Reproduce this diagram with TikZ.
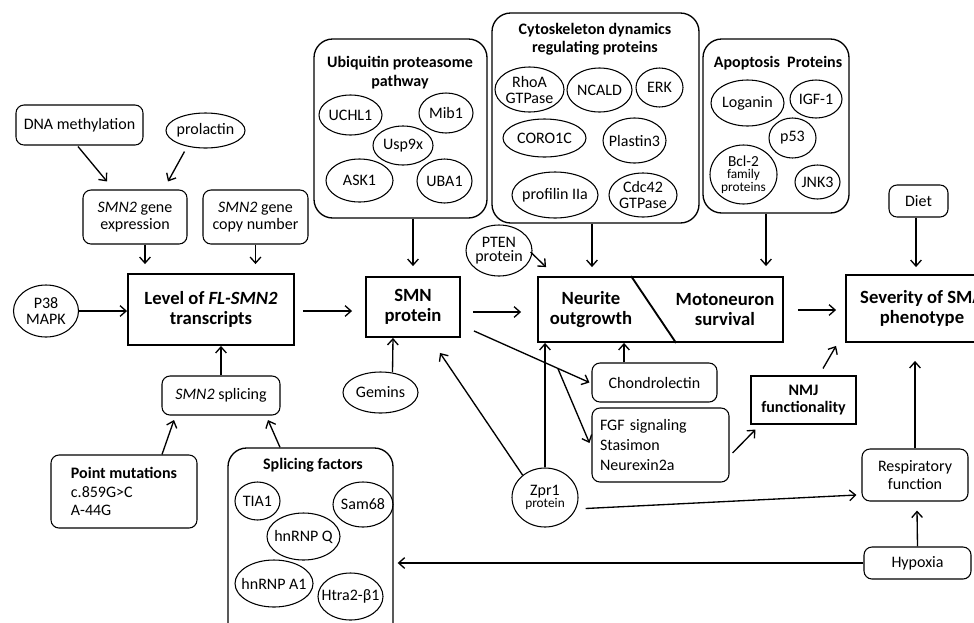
\documentclass[tikz,border=0pt]{standalone}
\usepackage{fontspec}
\setmainfont{Carlito}
\usetikzlibrary{shapes.geometric,arrows.meta,calc}
\tikzset{
  base/.style={draw, align=center, font=\fontsize{12}{13}\selectfont},
  rbox/.style 2 args={base, rounded corners=6pt, line width=0.8pt, inner sep=0pt, minimum width=#1*0.75pt, minimum height=#2*0.75pt},
  sbox/.style 2 args={base, line width=0.8pt, inner sep=0pt, minimum width=#1*0.75pt, minimum height=#2*0.75pt},
  mainbox/.style 2 args={draw, line width=1.4pt, inner sep=0pt, minimum width=#1*0.75pt, minimum height=#2*0.75pt, align=center, font=\fontsize{14}{15}\selectfont\bfseries},
  ell/.style 2 args={base, ellipse, line width=0.8pt, inner sep=-5pt, minimum width=#1*0.75pt, minimum height=#2*0.75pt},
  group/.style 2 args={draw, rounded corners=14pt, line width=1pt, inner sep=0pt, minimum width=#1*0.75pt, minimum height=#2*0.75pt},
  gtitle/.style={align=center, inner sep=0pt, font=\fontsize{12}{14}\selectfont\bfseries},
  txt/.style={align=center, inner sep=0pt, font=\fontsize{14}{15}\selectfont\bfseries},
  arr/.style={draw, line width=1pt, -{Straight Barb[length=4.5pt,width=8pt]}},
}
\begin{document}
\begin{tikzpicture}[x=0.75pt,y=-0.75pt]
\useasboundingbox (0,0) rectangle (974,622);
\clip (0,0) rectangle (974,622);

% ---- left part
\node[rbox={127}{40}] (dna) at (79.5,125) {DNA methylation};
\node[ell={79}{35}] (prol) at (205.5,130.5) {prolactin};
\node[rbox={104}{54}] (expr) at (135,217) {\textit{SMN2} gene\\expression};
\node[rbox={105}{54}] (copy) at (255.5,217) {\textit{SMN2} gene\\copy number};
\node[mainbox={166}{71}] (level) at (211,309.5) {Level of \textit{FL-SMN2}\\transcripts};
\node[ell={65}{52}, font=\fontsize{12}{11.5}\selectfont] (p38) at (46,311) {P38\\MAPK};
\node[rbox={118}{39}] (splice) at (221,395.5) {\textit{SMN2} splicing};
\node[rbox={146}{73}, align=left, font=\fontsize{12}{14}\selectfont] (point) at (124,491.5) {\textbf{Point mutations}\\c.859G>C\\A-44G};

% ---- splicing factors
\node[group={165}{202}] (sf) at (310.5,549) {};
\node[gtitle] (sft) at (313,465) {Splicing factors};
\node[ell={45}{38}] (tia) at (257.5,501) {TIA1};
\node[ell={60}{45}] (sam) at (363,504.5) {Sam68};
\node[ell={73}{47}] (hnq) at (303.5,536.5) {hnRNP Q};
\node[ell={78}{47}] (hna) at (274,583.5) {hnRNP A1};
\node[ell={65}{47}] (htra) at (350.5,596.5) {Htra2-β1};

% ---- SMN protein and ubiquitin
\node[mainbox={94}{60}] (smn) at (413,307) {SMN\\protein};
\node[ell={75}{41}] (gem) at (380.5,392.5) {Gemins};
\node[group={173}{179}] (ubiq) at (400.5,128.5) {};
\node[gtitle] (ubt) at (400,72.5) {Ubiquitin proteasome\\pathway};
\node[ell={63}{40}] (uchl) at (350.5,115) {UCHL1};
\node[ell={54}{40}] (mib) at (446,113) {Mib1};
\node[ell={60}{39}] (usp) at (403,145.5) {Usp9x};
\node[ell={67}{43}] (ask) at (359.5,180.5) {ASK1};
\node[ell={55}{44}] (uba) at (444.5,181) {UBA1};

% ---- cytoskeleton
\node[group={207}{210}] (cyto) at (595.5,118) {};
\node[gtitle, font=\fontsize{12}{13.5}\selectfont\bfseries] (cyt) at (595,39) {Cytoskeleton dynamics\\regulating proteins};
\node[ell={69}{45}, font=\fontsize{12}{12}\selectfont] (rhoa) at (529.5,89.5) {RhoA\\GTPase};
\node[ell={65}{44}] (ncald) at (599.5,90) {NCALD};
\node[ell={47}{39}] (erk) at (659.5,87.5) {ERK};
\node[ell={83}{38}] (coro) at (544.5,138) {CORO1C};
\node[ell={63}{45}] (plas) at (634.5,140.5) {Plastin3};
\node[ell={86}{46}] (prof) at (555,195) {profilin IIa};
\node[ell={68}{44}, font=\fontsize{12}{12}\selectfont] (cdc) at (643,195) {Cdc42\\GTPase};

% ---- apoptosis
\node[group={146}{174}] (apop) at (776,126) {};
\node[gtitle] (apt) at (778,63) {Apoptosis~ Proteins};
\node[ell={73}{46}] (logan) at (747.5,103) {Loganin};
\node[ell={52}{38}] (igf) at (816,99) {IGF-1};
\node[ell={47}{40}] (p53) at (792.5,138) {p53};
\node[ell={67}{59}, font=\fontsize{10}{9.5}\selectfont] (bcl) at (743.5,174.5) {{\fontsize{11.5}{9.5}\selectfont Bcl-2}\\family\\proteins};
\node[ell={45}{34}] (jnk) at (817.5,182) {JNK3};

% ---- neurite / motoneuron
\node[mainbox={245}{65}] (neur) at (660.5,309.5) {};
\draw[line width=1.4pt] ($(neur.north west)+(94,0)$) -- ($(neur.south west)+(139,0)$);
\node[txt] (nt) at (591,310) {Neurite\\outgrowth};
\node[txt] (mt) at (725,310) {Motoneuron\\survival};
\node[ell={66}{51}, font=\fontsize{12}{11}\selectfont] (pten) at (499,250.5) {PTEN\\protein};

% ---- right part
\node[mainbox={152}{67}] (sev) at (922,308.5) {Severity of SMA\\phenotype};
\node[rbox={59}{32}] (diet) at (918.5,201) {Diet};
\node[rbox={125}{39}] (chondro) at (654.5,382.5) {Chondrolectin};
\node[rbox={137}{74}, text width=121*0.75pt, align=left, font=\fontsize{12}{15}\selectfont] (fgf) at (660.5,445) {FGF signaling\\Stasimon\\Neurexin2a};
\node[sbox={105}{48}, font=\fontsize{12}{13}\selectfont\bfseries] (nmj) at (803.5,400) {NMJ\\functionality};
\node[rbox={106}{52}, font=\fontsize{12}{13.5}\selectfont] (resp) at (915,475) {Respiratory\\function};
\node[rbox={107}{32}] (hyp) at (917.5,563) {Hypoxia};
\node[ell={66}{59}, font=\fontsize{12}{9.5}\selectfont] (zpr) at (545,497.5) {Zpr1\\{\fontsize{10}{9.5}\selectfont protein}};

% ---- connectors
\draw[arr] ($(dna.south)+(-1.5,1)$) -- ($(expr.north)+(-28,-8)$);
\draw[arr] ($(prol.south)+(-21,3)$) -- ($(expr.north)+(33,-8)$);
\draw[arr] ($(expr.south)+(10,0)$) -- ($(level.north)+(-66,-9)$);
\draw[arr] (copy.south) -- ($(level.north)+(44.5,-9)$);
\draw[arr] (p38.east) -- (level.west |- p38.east);
\draw[arr] ($(level.east)+(8,1.5)$) -- ($(smn.west)+(-13,4)$);
\draw[arr] (splice.north) -- (splice.north |- level.south);
\draw[arr] ($(gem.north)+(12,1)$) -- ($(smn.south)+(-20,0)$);
\draw[arr] ($(point.north)+(38,0)$) -- ($(splice.south)+(-47,4.5)$);
\draw[arr] ($(sf.north)+(-30.5,0)$) -- ($(splice.south)+(47,4.5)$);
\draw[arr] (smn.north |- ubiq.south) -- ($(smn.north)+(0,-10)$);
\draw[arr] ($(smn.east)+(12,5)$) -- ($(neur.west)+(-16,2.5)$);
\draw[arr] ($(cyto.south)+(-3.5,0)$) -- ($(neur.north)+(-68.5,-9)$);
\draw[arr] ($(pten.east)+(-2,1.5)$) -- ($(neur.north west)+(9,-9)$);
\draw[arr] ($(apop.south)+(-10,0)$) -- ($(neur.north)+(105.5,-10)$);
\draw[arr] ($(neur.east)+(14,0.5)$) -- ($(sev.west)+(-9,1.5)$);
\draw[arr] ($(diet.south)+(-2.5,0)$) -- ($(sev.north)+(-6,-7)$);
\coordinate (s1) at ($(smn.south east)+(13,-7)$);
\coordinate (c1) at ($(chondro.west)+(-2,0)$);
\coordinate (br) at ($(s1)!0.726!(c1)$);
\draw[arr] (s1) -- (c1);
\draw[arr] (br) -- ($(fgf.west)+(-2,-2)$);
\draw[arr] ($(chondro.north)+(-30.5,0)$) -- ($(neur.south)+(-36.5,0)$);
\draw[arr] (zpr.north) -- (zpr.north |- neur.south);
\draw[arr] (zpr.135) -- ($(smn.south)+(27,15)$);
\draw[arr] ($(zpr.east)+(7,11)$) -- ($(resp.west)+(-5,20)$);
\draw[arr] ($(fgf.east)+(3,8)$) -- ($(nmj.south west)+(5,5)$);
\draw[arr] ($(nmj.north)+(19.5,-7)$) -- ($(sev.south west)+(-9,3)$);
\draw[arr] (resp.north) -- ($(sev.south)+(-7,18)$);
\draw[arr] (hyp.north) -- ($(resp.south)+(2,9)$);
\draw[arr] (hyp.west) -- ($(sf.east |- hyp.west)+(4,0)$);
\end{tikzpicture}
\end{document}
